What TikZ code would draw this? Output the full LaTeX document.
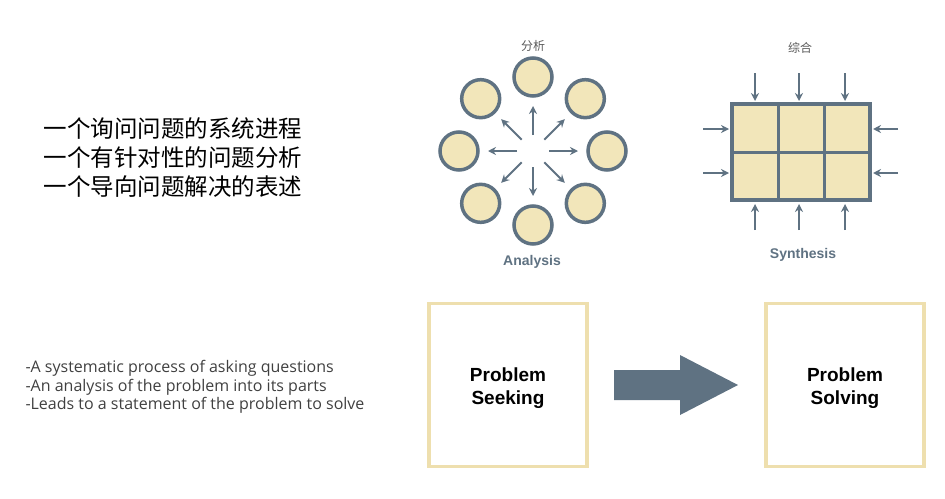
\documentclass[tikz,border=0pt]{standalone}
\usepackage{fontspec}
\setmainfont{Liberation Sans}
\newfontfamily\cjk{Noto Sans CJK SC}
\newfontfamily\osans{Open Sans}
\usetikzlibrary{arrows.meta,calc}
\definecolor{slate}{HTML}{5F7282}
\definecolor{fillc}{HTML}{F2E6BA}
\definecolor{boxc}{HTML}{EEDFAE}
\begin{document}
\begin{tikzpicture}[x=1pt,y=-1pt,
  circ/.style={circle,draw=slate,line width=3.5pt,fill=fillc,minimum size=38pt,inner sep=0pt},
  arr/.style={draw=slate,line width=2pt,-{Stealth[length=8pt,width=8pt]}},
  cell/.style={draw=slate,line width=3pt,fill=fillc,minimum width=46pt,minimum height=48pt,inner sep=0pt},
  lbl/.style={font=\bfseries\fontsize{14}{16}\selectfont,text=slate},
  bigbox/.style={draw=boxc,line width=3.5pt,minimum width=158pt,minimum height=163pt},
  btxt/.style={font=\bfseries\fontsize{19}{23}\selectfont,align=center}]
\useasboundingbox (0,0) rectangle (945,498);
% left texts
\node[anchor=west,font=\cjk\fontsize{23.5}{29}\selectfont,align=left] (zh) at (40,158) {一个询问问题的系统进程\\一个有针对性的问题分析\\一个导向问题解决的表述};
\node[anchor=west,font=\osans\fontsize{16}{18.5}\selectfont,align=left,text=black!75] (en) at (22,387) {-A systematic process of asking questions\\-An analysis of the problem into its parts\\-Leads to a statement of the problem to solve};
% analysis
\coordinate (c) at (533,151);
\node[font=\cjk\fontsize{12}{13}\selectfont,text=black!65] (fx) at (533,46) {分析};
\foreach \a/\n in {0/r,45/dr,90/d,135/dl,180/l,225/ul,270/u,315/ur}{
  \node[circ] (\n) at ($(c)+(\a:74)$) {};
  \coordinate (s\n) at ($(c)+(\a:16)$);
  \coordinate (e\n) at ($(c)+(\a:45)$);
  \draw[arr] (s\n) -- (e\n);
}
\node[lbl] (an) at (532,262) {Analysis};
% synthesis
\node[font=\cjk\fontsize{12}{13}\selectfont,text=black!65] (zh2) at (800,48) {综合};
\foreach \i in {0,1,2}{
  \foreach \j in {0,1}{
    \node[cell] (g\i\j) at ({755+\i*46},{128+\j*48}) {};
  }
}
\draw[draw=slate,line width=3.5pt] (732,104) rectangle (870,200);
\foreach \x [count=\k] in {755,799,845}{
  \coordinate (ta\k) at (\x,73); \coordinate (tb\k) at (\x,101);
  \draw[arr] (ta\k) -- (tb\k);
  \coordinate (ba\k) at (\x,230); \coordinate (bb\k) at (\x,204);
  \draw[arr] (ba\k) -- (bb\k);
}
\foreach \y [count=\k] in {129,173}{
  \coordinate (la\k) at (703,\y); \coordinate (lb\k) at (729,\y);
  \draw[arr] (la\k) -- (lb\k);
  \coordinate (ra\k) at (898,\y); \coordinate (rb\k) at (873,\y);
  \draw[arr] (ra\k) -- (rb\k);
}
\node[lbl] (sy) at (803,255) {Synthesis};
% bottom
\node[bigbox] (ps) at (508,385) {};
\node[btxt] (pst) at (508,388) {Problem\\Seeking};
\node[bigbox] (pv) at (845,385) {};
\node[btxt] (pvt) at (845,388) {Problem\\Solving};
\fill[slate] (614,370) -- (680,370) -- (680,355) -- (738,385) -- (680,415) -- (680,400) -- (614,400) -- cycle;
\end{tikzpicture}
\end{document}
